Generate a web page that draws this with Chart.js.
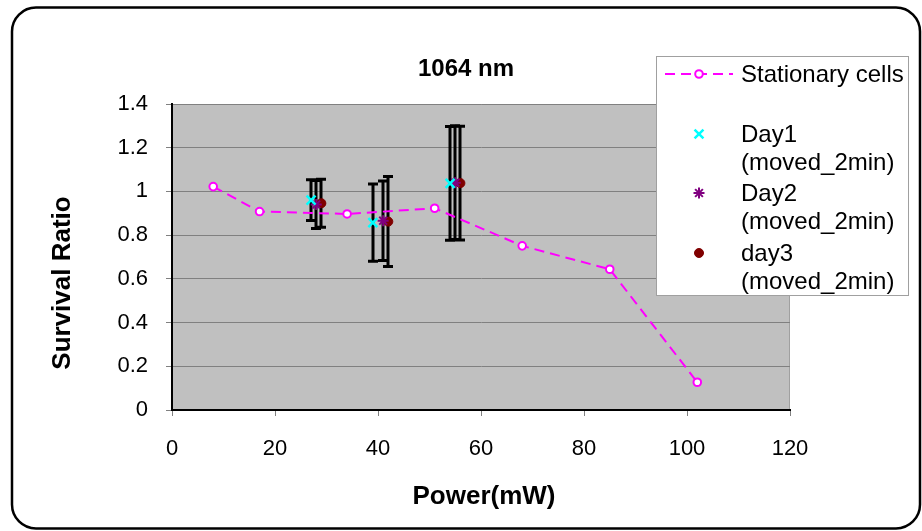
<!DOCTYPE html>
<html>
<head>
<meta charset="utf-8">
<title>1064 nm</title>
<script src="https://cdn.jsdelivr.net/npm/chart.js@4/dist/chart.umd.min.js"></script>
<style>
  html, body { margin: 0; padding: 0; background: #fff; }
  #chart { display: block; }
</style>
</head>
<body>
<canvas id="chart" width="922" height="531"></canvas>
<script>
const TITLE = "1064 nm";
const X_TITLE = "Power(mW)";
const Y_TITLE = "Survival Ratio";

const xTicks = [0, 20, 40, 60, 80, 100, 120];
const yTicks = [0, 0.2, 0.4, 0.6, 0.8, 1, 1.2, 1.4];
const yTickLabels = ["0", "0.2", "0.4", "0.6", "0.8", "1", "1.2", "1.4"];

const stationaryPower = [8, 17, 34, 51, 68, 85, 102];
const stationaryRatio = [1.022, 0.908, 0.897, 0.923, 0.751, 0.644, 0.127];

const day1Power = [27, 39, 54];
const day1Ratio = [0.96, 0.857, 1.037];
const day1Err = [0.093, 0.177, 0.26];

const day2Power = [28, 41, 55];
const day2Ratio = [0.94, 0.866, 1.04];
const day2Err = [0.11, 0.182, 0.26];

const day3Power = [29, 42, 56];
const day3Ratio = [0.946, 0.862, 1.038];
const day3Err = [0.11, 0.206, 0.26];

const legendLabels = [
  ["Stationary cells"],
  ["Day1", "(moved_2min)"],
  ["Day2", "(moved_2min)"],
  ["day3", "(moved_2min)"],
];

const FONT = "'Liberation Sans', Arial, sans-serif";

function points(xs, ys) {
  return xs.map((x, i) => ({ x, y: ys[i] }));
}

// plot background + light frame on top/right
const plotBackground = {
  id: "plotBackground",
  beforeDraw(chart) {
    const { ctx, chartArea: a } = chart;
    ctx.save();
    ctx.fillStyle = "#fff";
    ctx.fillRect(0, 0, chart.width, chart.height);
    ctx.fillStyle = "#c0c0c0";
    ctx.fillRect(a.left, a.top, a.right - a.left, a.bottom - a.top);
    ctx.strokeStyle = "#a0a0a0";
    ctx.lineWidth = 1;
    ctx.beginPath();
    ctx.moveTo(a.left, a.top + 0.5);
    ctx.lineTo(a.right - 0.5, a.top + 0.5);
    ctx.lineTo(a.right - 0.5, a.bottom);
    ctx.stroke();
    ctx.restore();
  },
};

const errorBars = {
  id: "errorBars",
  beforeDatasetsDraw(chart) {
    const { ctx, scales: { x, y } } = chart;
    ctx.save();
    ctx.strokeStyle = "#000";
    ctx.lineWidth = 3;
    chart.data.datasets.forEach((ds) => {
      if (!ds.errors) return;
      ds.data.forEach((p, j) => {
        const px = Math.round(x.getPixelForValue(p.x));
        const top = y.getPixelForValue(p.y + ds.errors[j]);
        const bot = y.getPixelForValue(p.y - ds.errors[j]);
        ctx.beginPath();
        ctx.moveTo(px, top);
        ctx.lineTo(px, bot);
        ctx.moveTo(px - 5, top);
        ctx.lineTo(px + 5, top);
        ctx.moveTo(px - 5, bot);
        ctx.lineTo(px + 5, bot);
        ctx.stroke();
      });
    });
    ctx.restore();
  },
};

function drawMarker(ctx, ds, x, y) {
  ctx.fillStyle = ds.pointBackgroundColor;
  ctx.strokeStyle = ds.pointBorderColor;
  ctx.lineWidth = ds.pointBorderWidth;
  ctx.setLineDash([]);
  Chart.helpers.drawPoint(ctx, {
    pointStyle: ds.pointStyle,
    radius: ds.pointRadius,
    rotation: 0,
    borderWidth: ds.pointBorderWidth,
  }, x, y);
}

const decorations = {
  id: "decorations",
  afterDraw(chart) {
    const { ctx } = chart;
    ctx.save();

    // titles
    ctx.fillStyle = "#000";
    ctx.textAlign = "center";
    ctx.textBaseline = "middle";
    ctx.font = `bold 24px ${FONT}`;
    ctx.fillText(TITLE, 466, 69);
    ctx.font = `bold 26px ${FONT}`;
    ctx.fillText(X_TITLE, 484, 497);
    ctx.save();
    ctx.translate(63, 283);
    ctx.rotate(-Math.PI / 2);
    ctx.fillText(Y_TITLE, 0, 0);
    ctx.restore();

    // legend
    const box = { left: 656.5, top: 56.5, width: 252, height: 239 };
    ctx.fillStyle = "#fff";
    ctx.fillRect(box.left, box.top, box.width, box.height);
    ctx.strokeStyle = "#a0a0a0";
    ctx.lineWidth = 1;
    ctx.strokeRect(box.left, box.top, box.width, box.height);

    const rows = [74, 134, 193, 253];
    const markerX = 699;
    const textX = 741;
    chart.data.datasets.forEach((ds, i) => {
      const yy = rows[i];
      if (ds.showLine) {
        ctx.strokeStyle = ds.borderColor;
        ctx.lineWidth = ds.borderWidth;
        ctx.setLineDash(ds.borderDash);
        ctx.beginPath();
        ctx.moveTo(665, yy);
        ctx.lineTo(733, yy);
        ctx.stroke();
      }
      drawMarker(ctx, ds, markerX, yy);
      ctx.fillStyle = "#000";
      ctx.textAlign = "left";
      ctx.textBaseline = "middle";
      ctx.font = `24px ${FONT}`;
      legendLabels[i].forEach((line, k) => {
        ctx.fillText(line, textX, yy + 1 + k * 28);
      });
    });

    // outer rounded frame
    ctx.setLineDash([]);
    ctx.strokeStyle = "#000";
    ctx.lineWidth = 2.5;
    ctx.beginPath();
    ctx.roundRect(12, 7.5, 908, 521, 24);
    ctx.stroke();
    ctx.restore();
  },
};

new Chart(document.getElementById("chart"), {
  type: "scatter",
  data: {
    datasets: [
      {
        label: legendLabels[0].join(" "),
        data: points(stationaryPower, stationaryRatio),
        showLine: true,
        borderColor: "#ff00ff",
        borderWidth: 2,
        borderDash: [10, 6],
        pointStyle: "circle",
        pointRadius: 3.8,
        pointBorderWidth: 2,
        pointBackgroundColor: "#fff",
        pointBorderColor: "#ff00ff",
      },
      {
        label: legendLabels[1].join(" "),
        data: points(day1Power, day1Ratio),
        errors: day1Err,
        pointStyle: "crossRot",
        pointRadius: 6.3,
        pointBorderWidth: 2.5,
        pointBackgroundColor: "#00ffff",
        pointBorderColor: "#00ffff",
      },
      {
        label: legendLabels[2].join(" "),
        data: points(day2Power, day2Ratio),
        errors: day2Err,
        pointStyle: "star",
        pointRadius: 5.5,
        pointBorderWidth: 2,
        pointBackgroundColor: "#800080",
        pointBorderColor: "#800080",
      },
      {
        label: legendLabels[3].join(" "),
        data: points(day3Power, day3Ratio),
        errors: day3Err,
        pointStyle: "circle",
        pointRadius: 4.5,
        pointBorderWidth: 1,
        pointBackgroundColor: "#800000",
        pointBorderColor: "#800000",
      },
    ],
  },
  options: {
    responsive: false,
    devicePixelRatio: 1,
    animation: false,
    events: [],
    layout: { padding: { top: 104, right: 132, left: 0, bottom: 0 } },
    plugins: {
      legend: { display: false },
      title: { display: false },
      tooltip: { enabled: false },
    },
    scales: {
      x: {
        type: "linear",
        min: 0,
        max: 120,
        afterFit: (s) => { s.height = 121; },
        afterBuildTicks: (s) => { s.ticks = xTicks.map((v) => ({ value: v })); },
        grid: { drawOnChartArea: false, drawTicks: true, tickLength: 6, color: "#808080" },
        border: { color: "#000", width: 2 },
        ticks: {
          padding: 20,
          color: "#000",
          font: { family: FONT, size: 22 },
          maxRotation: 0,
          callback: (v) => String(v),
        },
      },
      y: {
        type: "linear",
        min: 0,
        max: 1.4,
        afterFit: (s) => { s.width = 172; },
        afterBuildTicks: (s) => { s.ticks = yTicks.map((v) => ({ value: v })); },
        grid: { color: "#808080", lineWidth: 1, tickLength: 6 },
        border: { color: "#000", width: 2 },
        ticks: {
          padding: 18,
          color: "#000",
          font: { family: FONT, size: 22 },
          callback: (v, i) => yTickLabels[i],
        },
      },
    },
  },
  plugins: [plotBackground, errorBars, decorations],
});
</script>
</body>
</html>
